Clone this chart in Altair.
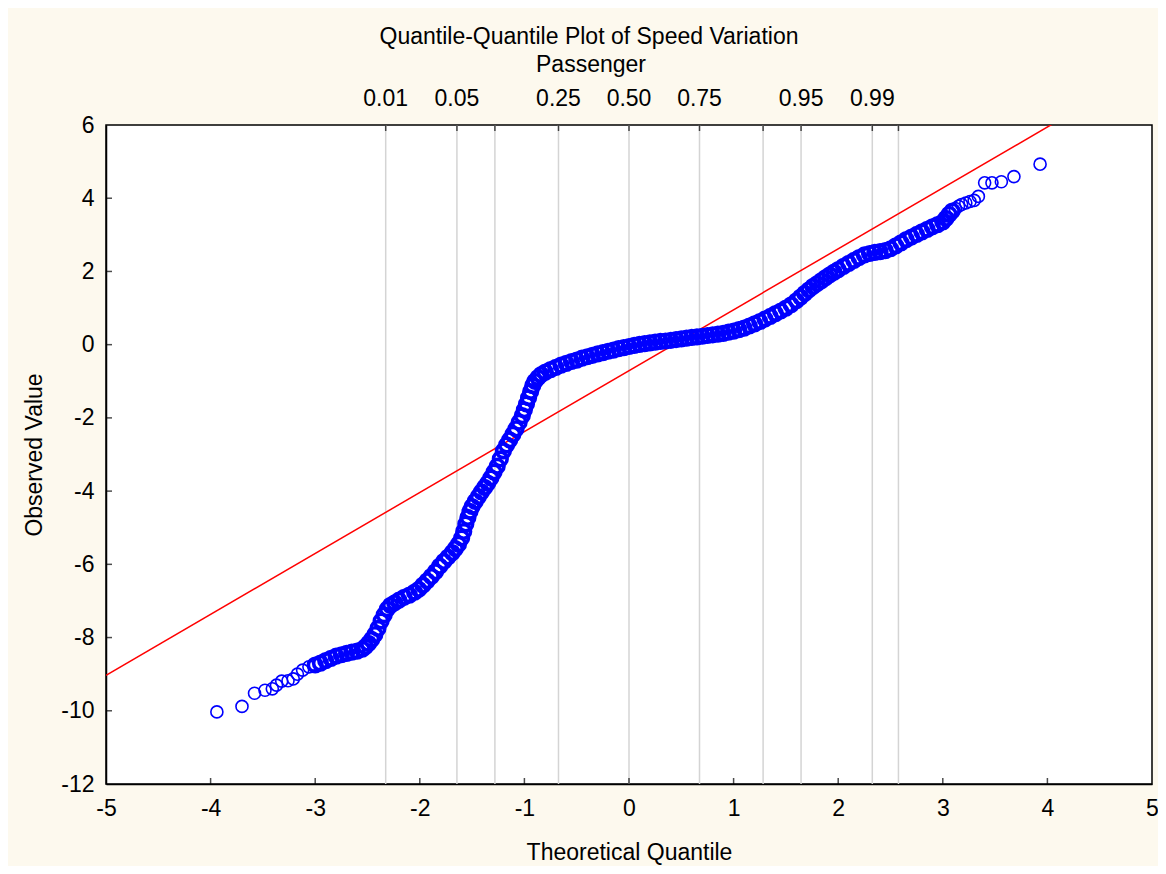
import altair as alt
import pandas as pd

# ---- data ----
obs_x = [-3.94, -3.70, -3.58, -3.48, -3.41, -3.37, -3.32, -3.26, -3.21, -3.17, -3.12, -3.06,
         -3.00, -2.95, -2.90, -2.85, -2.80, -2.75, -2.70, -2.65, -2.60, -2.55, -2.52, -2.49,
         -2.46, -2.43, -2.40, -2.37, -2.34, -2.31, -2.28, -2.24, -2.20, -2.15, -2.10, -2.05,
         -2.01, -1.97, -1.93, -1.89, -1.85, -1.81, -1.77, -1.73, -1.69, -1.66, -1.63, -1.60,
         -1.58, -1.56, -1.54, -1.52, -1.50, -1.47, -1.44, -1.41, -1.38, -1.35, -1.32, -1.29,
         -1.26, -1.23, -1.20, -1.17, -1.14, -1.11, -1.08, -1.05, -1.02, -1.00, -0.98, -0.96,
         -0.94, -0.92, -0.90, -0.87, -0.84, -0.80, -0.75, -0.70, -0.65, -0.60, -0.55, -0.50,
         -0.45, -0.40, -0.35, -0.30, -0.25, -0.20, -0.15, -0.10, -0.05, 0.00, 0.05, 0.10,
         0.15, 0.20, 0.25, 0.30, 0.35, 0.40, 0.45, 0.50, 0.55, 0.60, 0.65, 0.70,
         0.75, 0.80, 0.85, 0.90, 0.95, 1.00, 1.05, 1.10, 1.15, 1.20, 1.25, 1.30,
         1.35, 1.40, 1.45, 1.50, 1.55, 1.60, 1.64, 1.68, 1.72, 1.76, 1.80, 1.84,
         1.88, 1.92, 1.96, 2.00, 2.05, 2.10, 2.15, 2.20, 2.25, 2.30, 2.35, 2.40,
         2.45, 2.50, 2.55, 2.60, 2.65, 2.70, 2.75, 2.80, 2.85, 2.90, 2.95, 3.00,
         3.03, 3.06, 3.09, 3.12, 3.15, 3.18, 3.22, 3.26, 3.30, 3.34, 3.40, 3.47,
         3.56, 3.68, 3.93]
obs_y = [-10.03, -9.88, -9.52, -9.44, -9.40, -9.30, -9.19, -9.18, -9.13, -9.00, -8.89, -8.80,
         -8.75, -8.70, -8.63, -8.57, -8.51, -8.47, -8.43, -8.40, -8.37, -8.32, -8.25, -8.16,
         -8.05, -7.92, -7.75, -7.55, -7.38, -7.22, -7.12, -7.05, -6.98, -6.90, -6.84, -6.76,
         -6.68, -6.57, -6.45, -6.33, -6.20, -6.05, -5.92, -5.80, -5.68, -5.57, -5.45, -5.28,
         -5.10, -4.90, -4.72, -4.55, -4.42, -4.28, -4.15, -4.02, -3.90, -3.78, -3.64, -3.48,
         -3.32, -3.12, -2.90, -2.74, -2.60, -2.45, -2.30, -2.12, -1.94, -1.78, -1.62, -1.45,
         -1.28, -1.12, -1.00, -0.90, -0.82, -0.75, -0.68, -0.62, -0.56, -0.51, -0.46, -0.42,
         -0.37, -0.33, -0.29, -0.25, -0.22, -0.18, -0.15, -0.11, -0.08, -0.05, -0.02, 0.01,
         0.03, 0.05, 0.07, 0.09, 0.10, 0.12, 0.14, 0.16, 0.18, 0.20, 0.21, 0.23,
         0.25, 0.27, 0.29, 0.31, 0.34, 0.37, 0.41, 0.45, 0.51, 0.57, 0.63, 0.70,
         0.77, 0.85, 0.92, 1.00, 1.09, 1.20, 1.30, 1.40, 1.50, 1.59, 1.67, 1.75,
         1.83, 1.91, 1.98, 2.05, 2.14, 2.22, 2.30, 2.38, 2.45, 2.49, 2.52, 2.54,
         2.57, 2.62, 2.70, 2.78, 2.87, 2.94, 3.01, 3.08, 3.15, 3.22, 3.28, 3.35,
         3.45, 3.56, 3.65, 3.72, 3.78, 3.83, 3.87, 3.91, 3.94, 4.05, 4.42, 4.42,
         4.45, 4.59, 4.93]

fit_x = [-5.0, 5.0]
fit_y = [-9.03, 7.61]

grid_q = [-2.326, -1.645, -1.282, -0.674, 0.0, 0.674, 1.282, 1.645, 2.326, 2.576]
label_q = [-2.326, -1.645, -0.674, 0.0, 0.674, 1.645, 2.326]
label_txt = ["0.01", "0.05", "0.25", "0.50", "0.75", "0.95", "0.99"]

x_ticks = [-5, -4, -3, -2, -1, 0, 1, 2, 3, 4, 5]
y_ticks = [-12, -10, -8, -6, -4, -2, 0, 2, 4, 6]
x_inner = [-4, -3, -2, -1, 0, 1, 2, 3, 4]
y_inner = [-10, -8, -6, -4, -2, 0, 2, 4]

title_lines = ["Quantile-Quantile Plot of Speed Variation", "Passenger"]

W, H = 1046, 659
FONT = "Liberation Sans"
FS = 23

xscale = alt.Scale(domain=[-5, 5], nice=False, zero=False)
yscale = alt.Scale(domain=[-12, 6], nice=False, zero=False)

pts = pd.DataFrame({"q": obs_x, "v": obs_y})
pts["dense"] = (pts["q"] >= -3.0) & (pts["q"] <= 3.1)
fit = pd.DataFrame({"q": fit_x, "v": fit_y})
grid = pd.DataFrame({"q": grid_q})
labs = pd.DataFrame({"q": label_q, "t": label_txt})
xin = pd.DataFrame({"q": x_inner})
yin = pd.DataFrame({"v": y_inner})

base_x = alt.X("q:Q", scale=xscale,
               axis=alt.Axis(values=x_ticks, title="Theoretical Quantile", grid=False, ticks=False,
                             labelExpr="'' + datum.value",
                             labelPadding=13, titlePadding=21, domainColor="black", domainWidth=1.5,
                             labelFont=FONT, labelFontSize=FS, labelColor="black", labelFontWeight="normal",
                             titleFont=FONT, titleFontSize=FS, titleFontWeight="normal", titleColor="black",
                             labelFlush=False))
base_y = alt.Y("v:Q", scale=yscale,
               axis=alt.Axis(values=y_ticks, title="Observed Value", grid=False, ticks=False,
                             labelExpr="'' + datum.value",
                             labelPadding=12, titlePadding=14, domainColor="black", domainWidth=1.5,
                             labelFont=FONT, labelFontSize=FS, labelColor="black",
                             titleFont=FONT, titleFontSize=FS, titleFontWeight="normal", titleColor="black",
                             labelFlush=False))

grid_layer = alt.Chart(grid).mark_rule(color="#d4d4d4", strokeWidth=1.5).encode(
    x=alt.X("q:Q", scale=xscale))
top_ticks = alt.Chart(grid).mark_tick(color="black", size=6, thickness=1.5).encode(
    x=alt.X("q:Q", scale=xscale), y=alt.value(3))
bottom_ticks = alt.Chart(xin).mark_tick(color="black", size=6, thickness=1.5).encode(
    x=alt.X("q:Q", scale=xscale), y=alt.value(H - 3))
left_ticks = alt.Chart(yin).mark_tick(color="black", size=6, thickness=1.5, orient="horizontal").encode(
    y=alt.Y("v:Q", scale=yscale), x=alt.value(3))
top_labels = alt.Chart(labs).mark_text(font=FONT, fontSize=FS, color="black", baseline="middle").encode(
    x=alt.X("q:Q", scale=xscale), y=alt.value(-26), text="t:N")
t1 = alt.Chart(pd.DataFrame({"t": [title_lines[0]]})).mark_text(
    font=FONT, fontSize=FS, color="black", baseline="middle").encode(
    x=alt.value(W / 2 - 40), y=alt.value(-88), text="t:N")
t2 = alt.Chart(pd.DataFrame({"t": [title_lines[1]]})).mark_text(
    font=FONT, fontSize=FS, color="black", baseline="middle").encode(
    x=alt.value(W / 2 - 38), y=alt.value(-60), text="t:N")
fit_layer = alt.Chart(fit).mark_line(color="#ff0000", strokeWidth=1.5, clip=True).encode(
    x=alt.X("q:Q", scale=xscale), y=alt.Y("v:Q", scale=yscale))
dense_layer = alt.Chart(pts).transform_filter("datum.dense").mark_point(
    shape="circle", filled=False, color="#0000ff", size=185, strokeWidth=3.6, opacity=1).encode(
    x=base_x, y=base_y)
tail_layer = alt.Chart(pts).transform_filter("!datum.dense").mark_point(
    shape="circle", filled=False, color="#0000ff", size=145, strokeWidth=1.6, opacity=1).encode(
    x=alt.X("q:Q", scale=xscale), y=alt.Y("v:Q", scale=yscale))

chart = alt.layer(grid_layer, top_ticks, bottom_ticks, left_ticks, fit_layer, dense_layer, tail_layer,
                  top_labels, t1, t2).properties(
    width=W, height=H,
    autosize=alt.AutoSizeParams(type="none"),
    padding={"left": 98, "top": 117, "right": 6, "bottom": 82},
    background="#fdf9ee",
).configure_view(stroke="black", strokeWidth=1.5, fill="white")

chart.save("out.html", embed_options={"renderer": "svg", "actions": False})
